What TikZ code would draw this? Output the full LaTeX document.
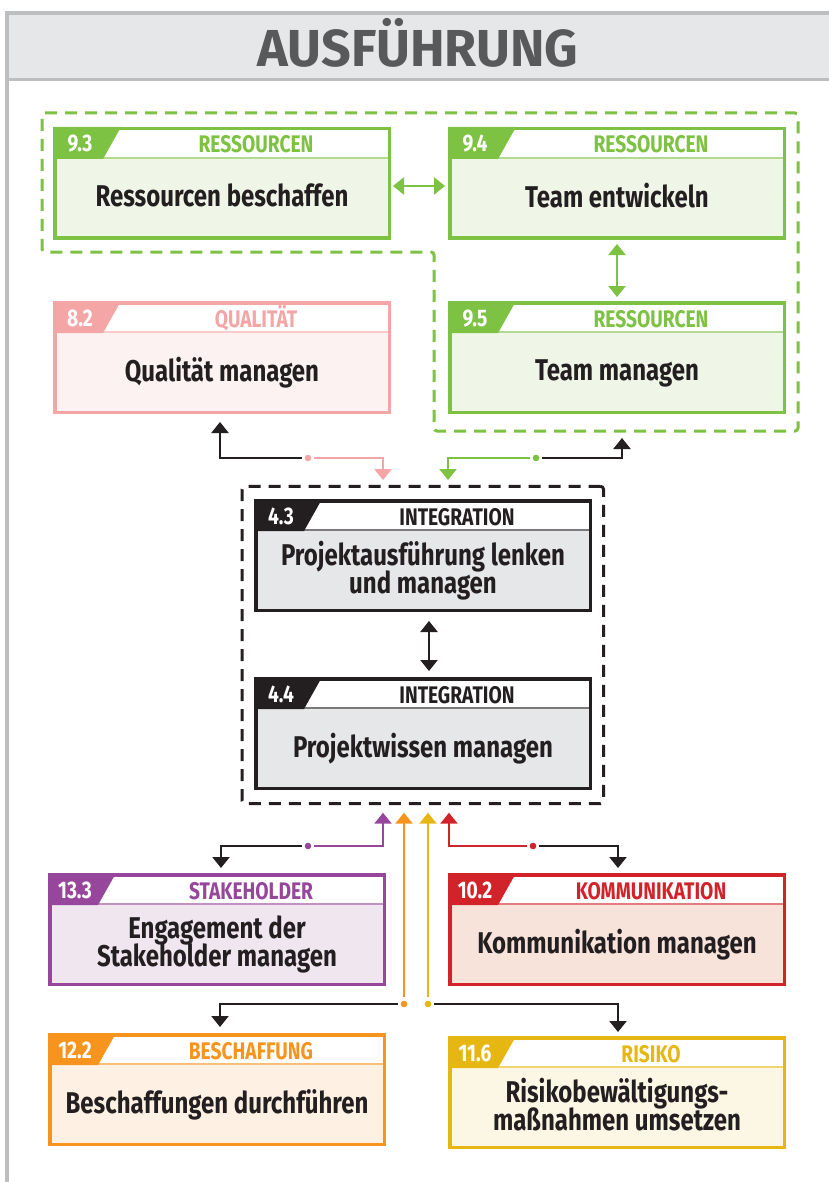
\documentclass[tikz,border=0pt]{standalone}
\usepackage{fontspec}
\setmainfont{Fira Sans}[FakeStretch=0.8]
\newfontfamily\titlefont{Fira Sans}[FakeStretch=1.0]
\usetikzlibrary{arrows.meta}
\definecolor{grn}{HTML}{7DC242}
\definecolor{grnf}{HTML}{EFF5E7}
\definecolor{pnk}{HTML}{F4A6A6}
\definecolor{pnkf}{HTML}{FCF2F1}
\definecolor{blk}{HTML}{231F20}
\definecolor{blkf}{HTML}{E6E7E8}
\definecolor{pur}{HTML}{97479B}
\definecolor{purf}{HTML}{F0E6F0}
\definecolor{rd}{HTML}{D2232A}
\definecolor{rdf}{HTML}{F8E3DB}
\definecolor{org}{HTML}{F7941D}
\definecolor{orgf}{HTML}{FEF1E3}
\definecolor{yel}{HTML}{E6B712}
\definecolor{yelf}{HTML}{FCF6E4}
\definecolor{hdr}{HTML}{E6E7E8}
\definecolor{frm}{HTML}{BCBEC0}
\definecolor{ttl}{HTML}{58595B}
\setlength{\lineskiplimit}{-20pt}
\setlength{\normallineskiplimit}{-20pt}
\newcommand\mkbox[8]{%
  \node[pboxn, draw=#4, fill=#5] (#1) at (#2+169,#3+56.5) {};
  \fill[white] (#2+3.5,#3+3.5) rectangle (#2+334.5,#3+30);
  \draw[#4!60!white, line width=2pt] (#2+3.5,#3+31) -- (#2+334.5,#3+31);
  \fill[#4] (#2,#3) -- (#2+68,#3) -- (#2+50,#3+32) -- (#2,#3+32) -- cycle;
  \node[numtxt, anchor=base] at (#2+27,#3+25) {#6};
  \node[cattxt, text=#4, anchor=base] at (#2+203,#3+26) {#7};
  \node[bodytxt] at (#2+169,#3+72) {\rule{0pt}{22pt}#8\rule[-7.5pt]{0pt}{7.5pt}};
}
\begin{document}
\begin{tikzpicture}[x=1pt, y=-1pt,
  pboxn/.style={rectangle, line width=3.5pt, outer sep=1.75pt, minimum width=334.5pt, minimum height=109.5pt, inner sep=0pt},
  numtxt/.style={text=white, font=\fontsize{24}{24}\selectfont\bfseries, inner sep=0pt},
  cattxt/.style={font=\fontsize{24}{24}\selectfont\bfseries, inner sep=0pt},
  bodytxt/.style={text=blk, font=\fontsize{30}{28}\selectfont\bfseries, align=center, inner sep=0pt},
  conn/.style={line width=2.5pt, -{Triangle[width=17pt,length=11pt]}},
  dconn/.style={line width=2.5pt, {Triangle[width=17pt,length=11pt]}-{Triangle[width=17pt,length=11pt]}},
  grpdash/.style={line width=3pt, dash pattern=on 12pt off 8pt, rounded corners=3pt}
]
\useasboundingbox (0,0) rectangle (828,1182);
% frame and header
\fill[hdr] (7,13) rectangle (830,80);
\draw[frm, line width=4pt] (7,1184) -- (7,13) -- (830,13);
\draw[frm, line width=3pt] (7,80) -- (830,80);
\node[text=ttl, font=\titlefont\fontsize{52}{52}\selectfont\bfseries, anchor=base, inner sep=0pt] (title) at (418,67) {AUSFÜHRUNG};

% green group
\draw[grn, grpdash] (42,113) -- (798,113) -- (798,431) -- (434,431) -- (434,252) -- (42,252) -- cycle;
% integration group
\node[draw=blk, grpdash, minimum width=361.5pt, minimum height=317.4pt, outer sep=0pt] (grpI) at (422.75,645) {};

% boxes
\mkbox{r93}{53}{127}{grn}{grnf}{9.3}{RESSOURCEN}{Ressourcen beschaffen}
\mkbox{r94}{448}{127}{grn}{grnf}{9.4}{RESSOURCEN}{Team entwickeln}
\mkbox{r95}{448}{301}{grn}{grnf}{9.5}{RESSOURCEN}{Team managen}
\mkbox{q}{53}{301}{pnk}{pnkf}{8.2}{QUALITÄT}{Qualität managen}
\mkbox{i43}{254}{499}{blk}{blkf}{4.3}{INTEGRATION}{Projektausführung lenken\\und managen}
\mkbox{i44}{254}{677}{blk}{blkf}{4.4}{INTEGRATION}{Projektwissen managen}
\mkbox{s133}{48}{873}{pur}{purf}{13.3}{STAKEHOLDER}{Engagement der\\Stakeholder managen}
\mkbox{k102}{448}{873}{rd}{rdf}{10.2}{KOMMUNIKATION}{Kommunikation managen}
\mkbox{b122}{48}{1033}{org}{orgf}{12.2}{BESCHAFFUNG}{Beschaffungen durchführen}
\mkbox{r116}{448}{1036}{yel}{yelf}{11.6}{RISIKO}{Risikobewältigungs-\\maßnahmen umsetzen}

% double arrows
\draw[dconn, grn] ([shift={(2pt,-2.5pt)}]r93.east) -- ([shift={(-3pt,-2.5pt)}]r94.west);
\draw[dconn, grn] ([yshift=-4pt]r94.south) -- ([yshift=4pt]r95.north);
\draw[dconn, blk] ([shift={(6pt,-9pt)}]i43.south) -- ([shift={(6pt,6pt)}]i44.north);

% junction points
\coordinate (dQ) at (308,458);
\coordinate (dG) at (536,458);
\coordinate (gG) at (622,438);
\coordinate (dS) at (308,846);
\coordinate (dK) at (533,846);
\coordinate (dB) at (404,1004);
\coordinate (dR) at (428,1004);

% top connectors
\draw[conn, blk] ([xshift=-6pt]dQ) -| ([shift={(-2pt,-8pt)}]q.south);
\draw[conn, pnk] ([xshift=6pt]dQ) -| ([shift={(-39.75pt,6.3pt)}]grpI.north);
\fill[pnk] (dQ) circle (3.3pt);
\draw[conn, grn] ([xshift=-6pt]dG) -| ([shift={(25.25pt,6.3pt)}]grpI.north);
\draw[conn, blk] ([xshift=6pt]dG) -| (gG);
\fill[grn] (dG) circle (3.3pt);

% bottom connectors
\draw[conn, pur] ([xshift=6pt]dS) -| ([shift={(-39.75pt,-9pt)}]grpI.south);
\draw[conn, blk] ([xshift=-6pt]dS) -| ([shift={(4pt,5pt)}]s133.north);
\fill[pur] (dS) circle (3.3pt);
\draw[conn, rd] ([xshift=-6pt]dK) -| ([shift={(26.25pt,-9pt)}]grpI.south);
\draw[conn, blk] ([xshift=6pt]dK) -| ([shift={(1pt,5pt)}]k102.north);
\fill[rd] (dK) circle (3.3pt);
\draw[conn, org] ([yshift=7pt]dB) -- ([shift={(-18.75pt,-9pt)}]grpI.south);
\draw[conn, blk] ([xshift=-6pt]dB) -| ([shift={(3pt,6pt)}]b122.north);
\fill[org] (dB) circle (3.3pt);
\draw[conn, yel] ([yshift=7pt]dR) -- ([shift={(5.25pt,-9pt)}]grpI.south);
\draw[conn, blk] ([xshift=6pt]dR) -| ([shift={(1pt,4pt)}]r116.north);
\fill[yel] (dR) circle (3.3pt);
\end{tikzpicture}
\end{document}
